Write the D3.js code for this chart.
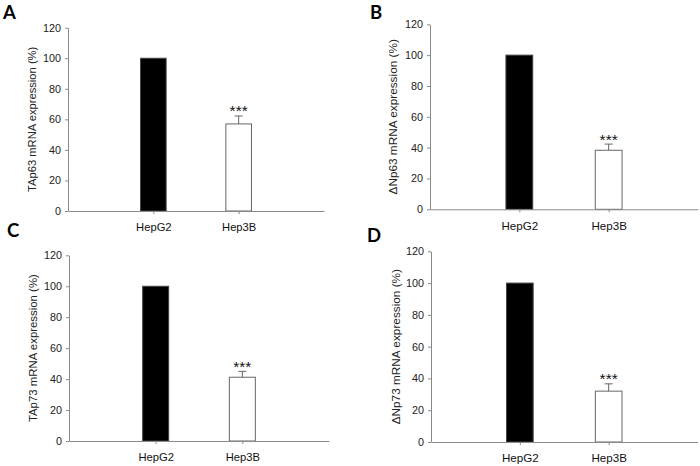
<!DOCTYPE html>
<html>
<head>
<meta charset="utf-8">
<script src="https://cdn.jsdelivr.net/npm/d3@7"></script>
<style>
  html, body { margin: 0; padding: 0; background: #fff; }
  svg { display: block; }
</style>
</head>
<body>
<svg id="chart" width="700" height="466"></svg>
<script>
// ---- data ----
const categories = ["HepG2", "Hep3B"];
const panelLetters = ["A", "B", "C", "D"];
const yLabels = [
  "TAp63 mRNA expression (%)",
  "ΔNp63 mRNA expression (%)",
  "TAp73 mRNA expression (%)",
  "ΔNp73 mRNA expression (%)"
];
const hepG2Values = [100, 100, 100, 100];
const hep3BValues = [57, 38.3, 41.2, 32];
const hep3BErrors = [5.2, 4, 3.8, 4.6];
const significance = ["***", "***", "***", "***"];
const yTicks = [0, 20, 40, 60, 80, 100, 120];

// ---- layout (pixel frames of each panel) ----
const frames = [
  { x0: 68,  x1: 324, y0: 211,   y1: 27.7,  lx: 3,   ly: 19.3,  labX: 36,  fs: 11.2, cat: 11.2 },
  { x0: 430, x1: 698, y0: 209.3, y1: 24.3,  lx: 370, ly: 18.5,  labX: 397, fs: 11.8, cat: 11.6 },
  { x0: 69,  x1: 329, y0: 441,   y1: 255.3, lx: 7,   ly: 237,   labX: 37,  fs: 11.4, cat: 11.2 },
  { x0: 431, x1: 697.5, y0: 442, y1: 251.3, lx: 367, ly: 242.3, labX: 400, fs: 11.8, cat: 11.6 }
];

const svg = d3.select("#chart");
const font = "'Liberation Sans', Arial, sans-serif";
const axisColor = "#8a8a8a";
const textColor = "#222";

frames.forEach((f, i) => {
  const g = svg.append("g");
  const x = d3.scalePoint().domain(categories).range([f.x0, f.x1]).padding(1);
  const y = d3.scaleLinear().domain([0, 120]).range([f.y0, f.y1]);
  const bw = x.step() * 0.3;

  // y axis
  const ya = g.append("g").attr("transform", `translate(${f.x0},0)`)
    .call(d3.axisLeft(y).tickValues(yTicks).tickSize(3).tickPadding(4).tickSizeOuter(0));
  ya.select(".domain").attr("stroke", axisColor);
  ya.selectAll(".tick line").attr("stroke", axisColor);
  ya.selectAll(".tick text").attr("fill", textColor).style("font-family", font).style("font-size", "10.8px");

  // bars
  const vals = [hepG2Values[i], hep3BValues[i]];
  g.selectAll("rect.bar").data(categories).enter().append("rect")
    .attr("x", d => x(d) - bw / 2)
    .attr("y", (d, j) => y(vals[j]))
    .attr("width", bw)
    .attr("height", (d, j) => y(0) - y(vals[j]))
    .attr("fill", (d, j) => j === 0 ? "#000" : "#fff")
    .attr("stroke", (d, j) => j === 0 ? "#444" : "#666")
    .attr("stroke-width", 1);

  // error bar (upper only) for Hep3B
  const cx = x(categories[1]);
  const top = y(hep3BValues[i] + hep3BErrors[i]);
  g.append("line").attr("x1", cx).attr("x2", cx)
    .attr("y1", y(hep3BValues[i])).attr("y2", top).attr("stroke", "#666");
  g.append("line").attr("x1", cx - 4).attr("x2", cx + 4)
    .attr("y1", top).attr("y2", top).attr("stroke", "#666");

  // significance
  g.append("text").attr("x", cx).attr("y", top + 0.5)
    .attr("text-anchor", "middle").attr("fill", "#111")
    .style("font-family", font).style("font-size", "15.5px")
    .text(significance[i]);

  // x axis
  const xa = g.append("g").attr("transform", `translate(0,${f.y0})`)
    .call(d3.axisBottom(x).tickSize(3).tickPadding(9).tickSizeOuter(0));
  xa.select(".domain").attr("stroke", axisColor);
  xa.selectAll(".tick line").attr("stroke", axisColor);
  xa.selectAll(".tick text").attr("fill", "#111").style("font-family", font).style("font-size", f.cat + "px");

  // y label
  g.append("text")
    .attr("transform", `translate(${f.labX},${(f.y0 + f.y1) / 2}) rotate(-90)`)
    .attr("text-anchor", "middle").attr("fill", textColor)
    .style("font-family", font).style("font-size", f.fs + "px")
    .text(yLabels[i]);

  // panel letter
  g.append("text").attr("x", f.lx).attr("y", f.ly)
    .attr("fill", "#000")
    .style("font-family", "Lato, 'Open Sans', sans-serif").style("font-weight", "bold").style("font-size", "18.5px")
    .text(panelLetters[i]);
});
</script>
</body>
</html>
